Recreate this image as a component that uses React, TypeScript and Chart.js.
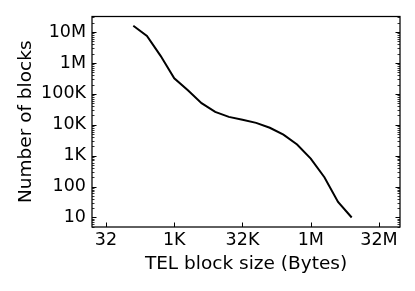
import React, { useEffect, useRef } from "react";
import { Chart, registerables } from "chart.js";

Chart.register(...registerables);

const blockSizes = [128, 256, 512, 1024, 2048, 4096, 8192, 16384, 32768, 65536, 131072, 262144, 524288, 1048576, 2097152, 4194304, 8388608];
const blockCounts = [1.6e7, 7.5e6, 1.7e6, 3.2e5, 1.3e5, 5.0e4, 2.6e4, 1.8e4, 1.45e4, 1.15e4, 8.0e3, 4.8e3, 2.3e3, 800, 200, 32, 10];

const xTickValues = [32, 1024, 32768, 1048576, 33554432];
const xTickLabels = ["32", "1K", "32K", "1M", "32M"];
const yTickValues = [10, 100, 1000, 10000, 100000, 1000000, 10000000];
const yTickLabels = ["10", "100", "1K", "10K", "100K", "1M", "10M"];

const FONT = "'DejaVu Sans', sans-serif";

const framePlugin = {
  id: "frameTicks",
  afterDraw(chart: any) {
    const { ctx, chartArea } = chart;
    const { left, right, top, bottom } = chartArea;
    const xs = chart.scales.x;
    const ys = chart.scales.y;
    ctx.save();
    ctx.strokeStyle = "#000";
    // ticks
    ctx.lineWidth = 1;
    ctx.beginPath();
    for (const v of xTickValues) {
      const px = Math.round(xs.getPixelForValue(v)) + 0.5;
      ctx.moveTo(px, bottom);
      ctx.lineTo(px, bottom - 4.5);
    }
    for (const v of yTickValues) {
      const py = Math.round(ys.getPixelForValue(v)) + 0.5;
      ctx.moveTo(left, py);
      ctx.lineTo(left + 4.5, py);
      ctx.moveTo(right, py);
      ctx.lineTo(right - 4.5, py);
    }
    ctx.stroke();
    ctx.lineWidth = 0.8;
    ctx.beginPath();
    for (let d = 1; d <= 1e7; d *= 10) {
      for (let m = 2; m <= 9; m++) {
        const v = m * d;
        if (v < ys.min || v > ys.max) continue;
        const py = Math.round(ys.getPixelForValue(v)) + 0.5;
        ctx.moveTo(left, py);
        ctx.lineTo(left + 2.5, py);
        ctx.moveTo(right, py);
        ctx.lineTo(right - 2.5, py);
      }
    }
    ctx.stroke();
    // frame
    ctx.lineWidth = 1.25;
    ctx.strokeRect(left, top, right - left, bottom - top);
    ctx.restore();
  },
};

export default function App() {
  const ref = useRef<HTMLCanvasElement>(null);
  useEffect(() => {
    if (!ref.current) return;
    const chart = new Chart(ref.current, {
      type: "line",
      data: {
        datasets: [
          {
            data: blockSizes.map((x, i) => ({ x, y: blockCounts[i] })),
            borderColor: "#000",
            borderWidth: 2,
            pointRadius: 0,
            tension: 0,
            fill: false,
          },
        ],
      },
      options: {
        animation: false,
        responsive: false,
        devicePixelRatio: 1,
        layout: { padding: { left: 0, right: 15, top: 15, bottom: 0 } },
        plugins: { legend: { display: false }, tooltip: { enabled: false } },
        scales: {
          x: {
            type: "logarithmic",
            min: 15.72,
            max: 9.75e7,
            grid: { display: false, drawTicks: false },
            border: { display: false },
            afterBuildTicks: (s: any) => {
              s.ticks = xTickValues.map((v) => ({ value: v }));
            },
            afterFit: (s: any) => {
              s.height = 64;
            },
            ticks: {
              autoSkip: false,
              maxRotation: 0,
              padding: 3,
              color: "#000",
              font: { family: FONT, size: 17.5 },
              callback: (v: any) => {
                const i = xTickValues.indexOf(Number(v));
                return i >= 0 ? xTickLabels[i] : "";
              },
            },
            title: {
              display: true,
              text: "TEL block size (Bytes)",
              color: "#000",
              font: { family: FONT, size: 18.5 },
              padding: { top: 0, bottom: 16 },
            },
          },
          y: {
            type: "logarithmic",
            min: 4.92,
            max: 3.19e7,
            grid: { display: false, drawTicks: false },
            border: { display: false },
            afterBuildTicks: (s: any) => {
              s.ticks = yTickValues.map((v) => ({ value: v }));
            },
            afterFit: (s: any) => {
              s.width = 92;
            },
            ticks: {
              autoSkip: false,
              padding: 6,
              color: "#000",
              font: { family: FONT, size: 17.5 },
              callback: (v: any) => {
                const i = yTickValues.indexOf(Number(v));
                return i >= 0 ? yTickLabels[i] : "";
              },
            },
            title: {
              display: true,
              text: "Number of blocks",
              color: "#000",
              font: { family: FONT, size: 18.5 },
              padding: { top: 15, bottom: 0 },
            },
          },
        },
      },
      plugins: [framePlugin],
    });
    return () => chart.destroy();
  }, []);
  return (
    <div style={{ position: "absolute", left: 0, top: 0, width: 415, height: 291, background: "#fff" }}>
      <canvas ref={ref} width={415} height={291} style={{ width: 415, height: 291 }} />
    </div>
  );
}
